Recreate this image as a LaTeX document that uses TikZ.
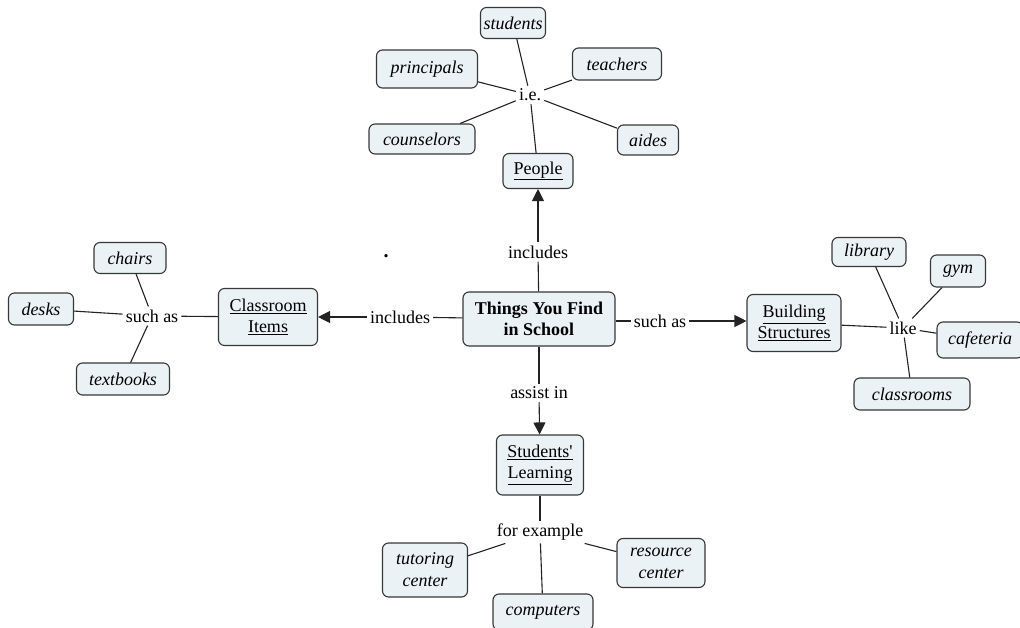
\documentclass[tikz,border=0pt]{standalone}
\usepackage{fontspec}
\setmainfont{Liberation Serif}
\usetikzlibrary{arrows.meta}
\definecolor{boxfill}{RGB}{234,242,245}
\definecolor{boxline}{RGB}{55,55,55}
\definecolor{linkline}{RGB}{35,35,35}
\tikzset{
  concept/.style={draw=boxline, fill=boxfill, rounded corners=6pt, line width=1.1pt,
    inner sep=3pt, align=center, font=\fontsize{18}{21}\selectfont},
  leaf/.style={concept, font=\fontsize{18}{21}\selectfont\itshape},
  linkph/.style={inner sep=3pt, font=\fontsize{18}{21}\selectfont},
  conn/.style={draw=linkline, line width=1.1pt},
  arr/.style={conn, -{Triangle[length=12pt,width=12pt]}}
}
\begin{document}
\begin{tikzpicture}[x=1pt,y=-1pt]
\useasboundingbox (0,0) rectangle (1020,628);
% main
\node[concept, minimum width=152, minimum height=54, font=\fontsize{18}{21}\selectfont\bfseries] (main) at (539,319) {Things You Find\\in School};
% first level
\node[concept, minimum width=70, minimum height=35] (people) at (538,171) {\underline{People}};
\node[concept, minimum width=99, minimum height=57] (class) at (268,317) {\underline{Classroom}\\\underline{Items}};
\node[concept, minimum width=94, minimum height=57] (build) at (794,323) {\underline{Building}\\\underline{Structures}};
\node[concept, minimum width=87, minimum height=60] (learn) at (540,465) {\underline{Students\textquotesingle}\\\underline{Learning}};
% linking phrases
\node[linkph] (inc1) at (538,252) {includes};
\node[linkph] (inc2) at (400,317) {includes};
\node[linkph] (such1) at (660,321) {such as};
\node[linkph] (assist) at (539,393) {assist in};
\node[linkph] (ie) at (530,95) {i.e.};
\node[linkph] (such2) at (152,316) {such as};
\node[linkph] (like) at (903,328) {like};
\node[linkph] (forex) at (540,532) {for example};
\node[inner sep=0pt, font=\fontsize{20}{21}\selectfont\bfseries] (dot) at (386,256) {.};
% leaves
\node[leaf, minimum width=54, minimum height=31] (students) at (513,23) {students};
\node[leaf, minimum width=101, minimum height=38] (principals) at (427,69) {principals};
\node[leaf, minimum width=89, minimum height=32] (teachers) at (617,64) {teachers};
\node[leaf, minimum width=106, minimum height=30] (counselors) at (422,139) {counselors};
\node[leaf, minimum width=61, minimum height=30] (aides) at (648,140) {aides};
\node[leaf, minimum width=72, minimum height=31] (chairs) at (130,258) {chairs};
\node[leaf, minimum width=65, minimum height=32] (desks) at (41,309) {desks};
\node[leaf, minimum width=93, minimum height=32] (textbooks) at (123,379) {textbooks};
\node[leaf, minimum width=74, minimum height=29] (library) at (869,252) {library};
\node[leaf, minimum width=55, minimum height=32] (gym) at (958,271) {gym};
\node[leaf, minimum width=86, minimum height=36] (cafeteria) at (980,340) {cafeteria};
\node[leaf, minimum width=116, minimum height=32] (classrooms) at (912,394) {classrooms};
\node[leaf, minimum width=85, minimum height=54, font=\fontsize{18}{22}\selectfont\itshape] (tutoring) at (425,570) {tutoring\\center};
\node[leaf, minimum width=88, minimum height=49, font=\fontsize{18}{22}\selectfont\itshape] (resource) at (661,563) {resource\\center};
\node[leaf, minimum width=100, minimum height=36] (computers) at (543,612) {computers};
% main links
\draw[conn] (main) -- (inc1);
\draw[arr] (inc1) -- (people);
\draw[conn] (main) -- (inc2);
\draw[arr] (inc2) -- (class);
\draw[conn] (main.east |- such1) -- (such1);
\draw[arr] (such1) -- (such1 -| build.west);
\draw[conn] (main) -- (assist);
\draw[arr] (assist) -- (learn);
% people
\draw[conn] (people) -- (ie);
\foreach \t in {students,principals,teachers,counselors,aides} \draw[conn] (ie) -- (\t);
% classroom
\draw[conn] (class) -- (such2);
\foreach \t in {chairs,desks,textbooks} \draw[conn] (such2) -- (\t);
% building
\draw[conn] (build) -- (like);
\foreach \t in {library,gym,cafeteria,classrooms} \draw[conn] (like) -- (\t);
% learning
\draw[conn] (learn) -- (forex);
\foreach \t in {tutoring,resource,computers} \draw[conn] (forex) -- (\t);
\end{tikzpicture}
\end{document}
